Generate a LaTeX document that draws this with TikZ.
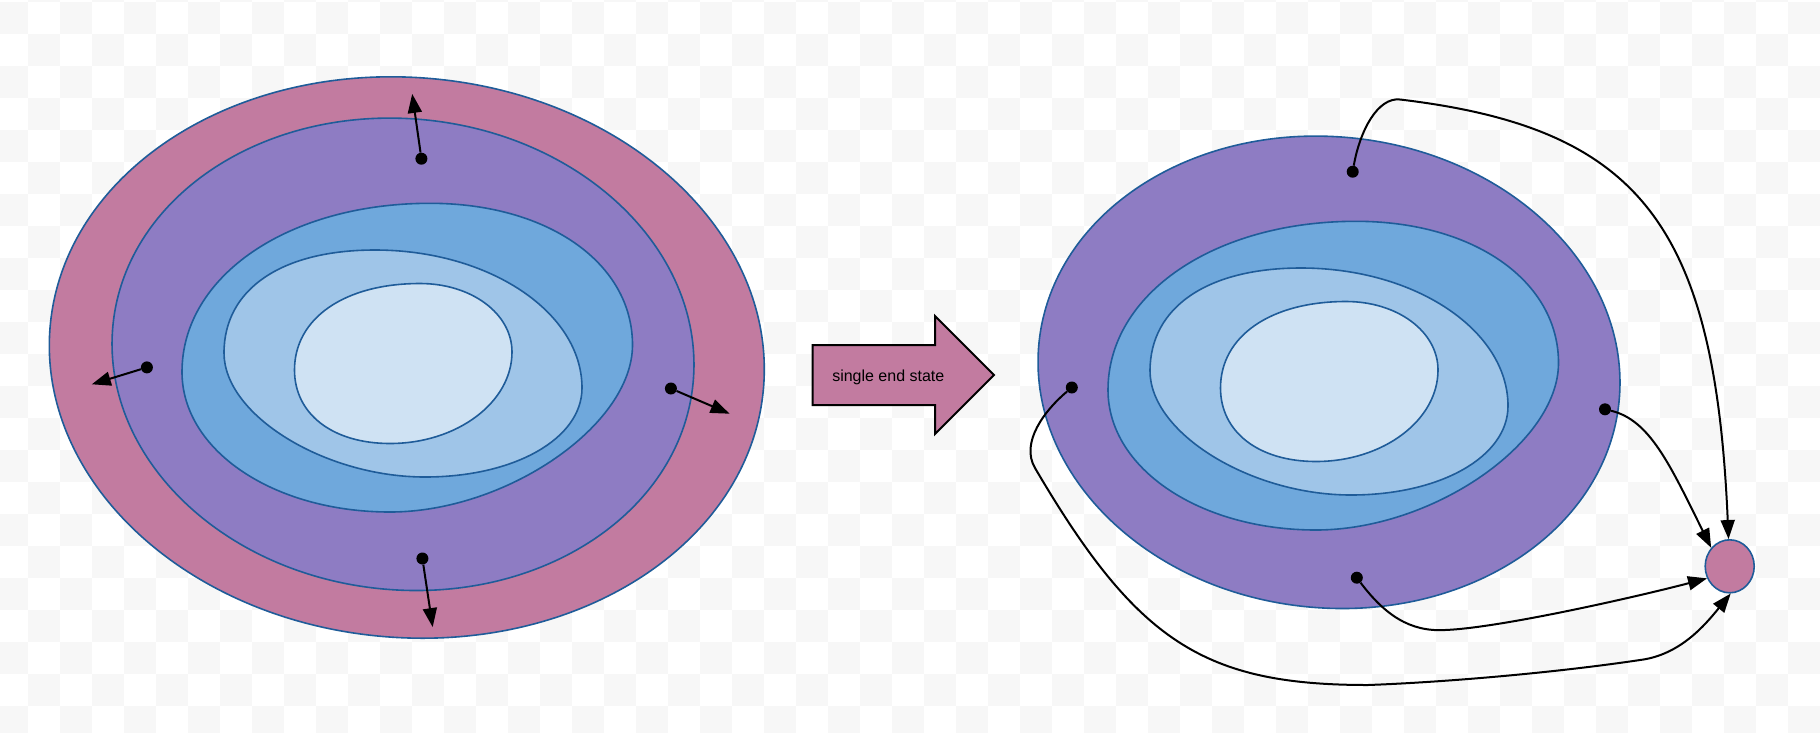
\documentclass[tikz,border=0pt]{standalone}
\usepackage{fontspec}
\newfontfamily\labfont{Liberation Sans}
\usetikzlibrary{arrows.meta,shapes.geometric}
\definecolor{cbg}{HTML}{F7F7F7}
\definecolor{cpink}{HTML}{C27BA0}
\definecolor{cpurp}{HTML}{8E7CC3}
\definecolor{cblueA}{HTML}{6FA8DC}
\definecolor{cblueB}{HTML}{9FC5E8}
\definecolor{cblueC}{HTML}{CFE2F3}
\definecolor{outl}{HTML}{1F5C99}
\def\shpMid{(430,203.3) .. controls (547.5,203.3) and (632.5,262.8) .. (632.5,345)
  .. controls (632.5,425.2) and (506.4,512) .. (390,512)
  .. controls (273.5,512) and (182,450.4) .. (182,372)
  .. controls (182,275.8) and (288.6,203.3) .. (430,203.3) -- cycle}
\def\shpLight{(375,250) .. controls (488.9,250) and (582,312.1) .. (582,388)
  .. controls (582,438.7) and (514.5,477) .. (425,477)
  .. controls (324.5,477) and (224,415) .. (224,353)
  .. controls (224,289.1) and (281.4,250) .. (375,250) -- cycle}
\def\shpCore{(420,283.5) .. controls (471.5,283.5) and (512,313.6) .. (512,352)
  .. controls (512,402.3) and (457.1,443.5) .. (390,443.5)
  .. controls (332.7,443.5) and (294.5,414.1) .. (294.5,370)
  .. controls (294.5,318.1) and (344.7,283.5) .. (420,283.5) -- cycle}
\begin{document}
\begin{tikzpicture}[x=1pt,y=-1pt,
  shp/.style={draw=outl,line width=1.6pt},
  dotn/.style={circle,fill=black,inner sep=0pt,minimum size=12pt},
  conn/.style={line width=2pt,-{Triangle[length=19pt,width=14pt]}},
  bigarrow/.style={draw=black,line width=2pt,fill=cpink,line join=miter}]
\useasboundingbox (0,0) rectangle (1820,732);
\clip (0,0) rectangle (1820,732);
% transparency checkerboard
\foreach \r in {0,...,23}{\foreach \c in {0,...,57}{%
  \pgfmathtruncatemacro{\pp}{mod(\r+\c,2)}%
  \ifnum\pp=1 \fill[cbg] ({-4+32*\c},{-30.5+32*\r}) rectangle ++(32,32);\fi}}
% ---------- left figure ----------
\draw[shp,fill=cpink,rotate around={-5:(406.8,357.5)}] (406.8,357.5) ellipse[x radius=358,y radius=280];
\draw[shp,fill=cpurp,rotate around={-6:(403,354.3)}] (403,354.3) ellipse[x radius=291.5,y radius=235.5];
\draw[shp,fill=cblueA] \shpMid;
\draw[shp,fill=cblueB] \shpLight;
\draw[shp,fill=cblueC] \shpCore;
\node[dotn] (lT) at (421.4,158.7) {};
\node[dotn] (lL) at (146.9,367.4) {};
\node[dotn] (lR) at (670.9,388.5) {};
\node[dotn] (lB) at (422.4,558.5) {};
\coordinate (lTt) at (412.2,93.9);
\coordinate (lLt) at (91.8,384.3);
\coordinate (lRt) at (729.6,413.7);
\coordinate (lBt) at (432.7,627.1);
\draw[conn] (lT) -- (lTt);
\draw[conn] (lL) -- (lLt);
\draw[conn] (lR) -- (lRt);
\draw[conn] (lB) -- (lBt);
% ---------- middle arrow ----------
\draw[bigarrow] (812.7,345) -- (935,345) -- (935,316) -- (994,375) -- (935,434) -- (935,405) -- (812.7,405) -- cycle;
\node[anchor=base,inner sep=0pt,font=\labfont\fontsize{16}{19}\selectfont] (lab) at (888.3,381) {single end state};
% ---------- right figure ----------
\begin{scope}[shift={(926,18)}]
\draw[shp,fill=cpurp,rotate around={-6:(403,354.3)}] (403,354.3) ellipse[x radius=291.5,y radius=235.5];
\draw[shp,fill=cblueA] \shpMid;
\draw[shp,fill=cblueB] \shpLight;
\draw[shp,fill=cblueC] \shpCore;
\end{scope}
\node[shp,fill=cpink,ellipse,inner sep=0pt,minimum width=49pt,minimum height=53pt] (end) at (1729.7,566.3) {};
\node[dotn] (rT) at (1352.7,171.7) {};
\node[dotn] (rL) at (1071.8,387.5) {};
\node[dotn] (rR) at (1605,409.3) {};
\node[dotn] (rB) at (1356.8,577.7) {};
\draw[conn] (rT) .. controls (1360,130) and (1378,97) .. (1400,99.5)
  .. controls (1640,128) and (1715,225) .. (end);
\draw[conn] (rR) .. controls (1650,420) and (1670,465) .. (end.135);
\draw[conn] (rB) .. controls (1385,615) and (1410,632) .. (1445,630)
  .. controls (1500,628) and (1640,596) .. (end.208);
\draw[conn] (rL) .. controls (1045,410) and (1020,442.5) .. (1035,468)
  .. controls (1137,642) and (1204,685) .. (1368,685)
  .. controls (1450,682) and (1560,672) .. (1640,660)
  .. controls (1680,655) and (1705,625) .. (end.272);
\end{tikzpicture}
\end{document}
